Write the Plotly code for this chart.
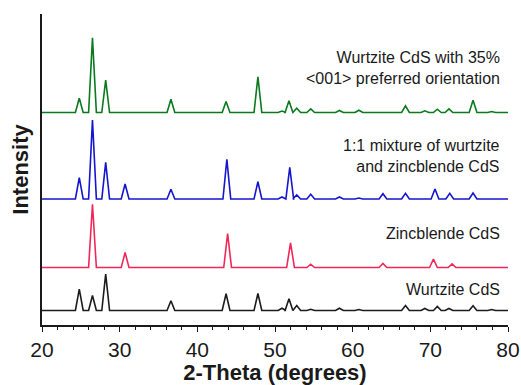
import plotly.graph_objects as go

# ---- data ----
wurtzite_pos = [24.8, 26.5, 28.2, 36.6, 43.7, 47.8, 50.9, 51.8, 52.8, 54.6,
                58.3, 60.8, 66.8, 69.3, 70.9, 72.4, 75.5, 77.9]
wurtzite_int = [21.3, 15.0, 36.3, 9.7, 16.7, 17.0, 2.3, 11.7, 5.0, 1.2,
                2.3, 1.0, 5.0, 2.0, 4.0, 2.0, 4.7, 1.0]

zincblende_pos = [26.5, 30.7, 43.9, 52.0, 54.6, 63.9, 70.4, 72.8]
zincblende_int = [63.3, 15.0, 34.0, 24.7, 3.3, 4.0, 8.3, 3.7]

mixture_pos = [24.8, 26.5, 28.2, 30.7, 36.6, 43.8, 47.8, 50.9, 51.9, 52.8,
               54.6, 58.3, 60.8, 63.9, 66.8, 70.6, 72.5, 75.5]
mixture_int = [21.3, 79.0, 36.7, 15.0, 9.7, 39.7, 17.3, 2.0, 31.7, 4.0,
               4.7, 2.0, 1.0, 5.3, 5.7, 10.0, 5.7, 6.0]

preferred_pos = [24.8, 26.5, 28.2, 36.6, 43.7, 47.8, 50.9, 51.8, 52.8, 54.6,
                 58.3, 60.8, 66.8, 69.3, 70.9, 72.4, 75.5, 77.9]
preferred_int = [14.3, 74.7, 32.3, 13.3, 11.0, 35.7, 1.5, 11.7, 4.3, 3.7,
                 2.0, 2.3, 6.7, 1.7, 3.3, 3.7, 12.3, 1.0]

series_names = ["Wurtzite CdS", "Zincblende CdS",
                "1:1 mixture of wurtzite<br>and zincblende CdS",
                "Wurtzite CdS with 35%<br><001> preferred orientation"]
series_offsets = [14.5, 57.5, 126.0, 212.5]
series_label_y = [36, 92, 169, 257]
x_range = [20, 80]

# ---- style ----
colors = ["#1c1c1c", "#f0285a", "#1515cf", "#0b7a1f"]
half_base = 0.5
FONT = "Arial, Liberation Sans, sans-serif"


def profile(pos, inten, offset):
    xs, ys = [x_range[0]], [offset]
    for p, h in zip(pos, inten):
        xs += [p - half_base, p, p + half_base]
        ys += [offset, offset + h, offset]
    xs.append(x_range[1])
    ys.append(offset)
    return xs, ys


data = [(wurtzite_pos, wurtzite_int), (zincblende_pos, zincblende_int),
        (mixture_pos, mixture_int), (preferred_pos, preferred_int)]

fig = go.Figure()
for (pos, inten), off, col, name in zip(data, series_offsets, colors, series_names):
    xs, ys = profile(pos, inten, off)
    fig.add_trace(go.Scatter(x=xs, y=ys, mode="lines", name=name.replace("<br>", " "),
                             line=dict(color=col, width=1.6), showlegend=False))

for name, ly in zip(series_names, series_label_y):
    fig.add_annotation(x=79.2, y=ly, xref="x", yref="y", text=name, showarrow=False,
                       xanchor="right", yanchor="middle", align="right",
                       font=dict(family=FONT, size=16, color="#1a1a1a"))

fig.update_layout(
    width=521, height=385,
    margin=dict(l=42, r=13, t=14, b=60, autoexpand=False),
    paper_bgcolor="white", plot_bgcolor="white",
    font=dict(family=FONT, color="#1a1a1a"),
    xaxis=dict(range=x_range, tickmode="array", tickvals=[20, 30, 40, 50, 60, 70, 80],
               automargin=False,
               ticks="outside", ticklen=5, tickwidth=1.3, tickcolor="#1a1a1a",
               minor=dict(dtick=2, ticks="outside", ticklen=3, tickwidth=1.2, tickcolor="#1a1a1a"),
               showline=True, linecolor="#1a1a1a", linewidth=1.5,
               showgrid=False, zeroline=False,
               tickfont=dict(size=21, family=FONT, color="#1a1a1a"),
               title=dict(text="<b>2-Theta (degrees)</b>", font=dict(size=22, family=FONT),
                          standoff=4)),
    yaxis=dict(range=[0, 311], showticklabels=False, ticks="", automargin=False,
               showline=True, linecolor="#1a1a1a", linewidth=1.5,
               showgrid=False, zeroline=False,
               title=dict(text="<b>Intensity</b>", font=dict(size=22, family=FONT),
                          standoff=6)),
)

fig.write_html("out.html")
